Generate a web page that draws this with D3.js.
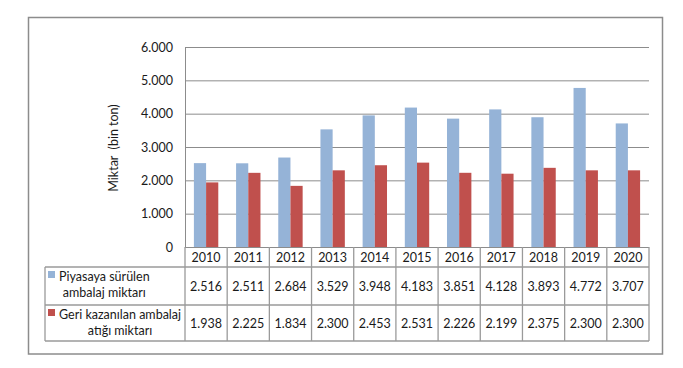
<!DOCTYPE html>
<html>
<head>
<meta charset="utf-8">
<script src="https://cdn.jsdelivr.net/npm/d3@7"></script>
<style>
  body { margin: 0; background: #fff; }
  text { font-family: Lato, "Noto Sans", sans-serif; fill: #1a1a1a; }
</style>
</head>
<body>
<div id="chart"></div>
<script>
// veriler (bin ton)
const years = ["2010", "2011", "2012", "2013", "2014", "2015", "2016", "2017", "2018", "2019", "2020"];
const piyasaya = [2516, 2511, 2684, 3529, 3948, 4183, 3851, 4128, 3893, 4772, 3707];
const geriKazanilan = [1938, 2225, 1834, 2300, 2453, 2531, 2226, 2199, 2375, 2300, 2300];
const yTicks = [0, 1000, 2000, 3000, 4000, 5000, 6000];
const seriesNames = [
    ["Piyasaya sürülen", "ambalaj miktarı"],
    ["Geri kazanılan ambalaj", "atığı miktarı"]
];
const colors = ["#95b3d7", "#c0504d"];

const W = 683, H = 368;
const plot = { left: 185, right: 649, top: 47, bottom: 247 };
const rows = [247, 267, 305, 341];   // tablo satır sınırları
const tableLeft = 45;
const lineColor = "#9a9a9a";

const tr = d3.formatLocale({ decimal: ",", thousands: ".", grouping: [3], currency: ["", ""] });
const fmt = tr.format(",d");

const svg = d3.select("#chart").append("svg")
    .attr("width", W)
    .attr("height", H);

// dış çerçeve
svg.append("rect")
    .attr("x", 28.5).attr("y", 17.5)
    .attr("width", 634).attr("height", 336.5)
    .attr("fill", "#fff")
    .attr("stroke", "#8c8c8c")
    .attr("stroke-width", 1.5);

const x = d3.scaleBand().domain(years).range([plot.left, plot.right]);
const xs = d3.scaleBand().domain([0, 1]).range([0, x.bandwidth()]).paddingOuter(0.73);
const y = d3.scaleLinear().domain([0, 6000]).range([plot.bottom, plot.top]);

// ızgara çizgileri
const yAxis = svg.append("g")
    .attr("transform", `translate(${plot.left},0)`)
    .call(d3.axisLeft(y).tickValues(yTicks).tickFormat(fmt)
        .tickSize(-(plot.right - plot.left)).tickPadding(12));
yAxis.select(".domain").attr("stroke", "#8c8c8c");
yAxis.selectAll(".tick line").attr("stroke", "#8c8c8c");
yAxis.selectAll(".tick text")
    .style("font-size", "12.5px")
    .attr("fill", "#1a1a1a");

// eksen başlığı
svg.append("text")
    .attr("transform", "translate(118,148) rotate(-90)")
    .attr("text-anchor", "middle")
    .style("font-size", "12.5px")
    .style("white-space", "pre")
    .text("Miktar  (bin ton)");

// çubuklar
const series = [piyasaya, geriKazanilan];
series.forEach((vals, si) => {
    svg.append("g").selectAll("rect")
        .data(vals)
        .join("rect")
        .attr("x", (d, i) => x(years[i]) + xs(si))
        .attr("width", xs.bandwidth())
        .attr("y", d => y(d))
        .attr("height", d => y(0) - y(d))
        .attr("fill", colors[si]);
});

// veri tablosu
const table = svg.append("g")
    .attr("stroke", lineColor)
    .attr("stroke-width", 1.3);

rows.slice(1).forEach(r => {
    table.append("line")
        .attr("x1", tableLeft).attr("x2", plot.right)
        .attr("y1", r).attr("y2", r);
});
table.append("line")
    .attr("x1", tableLeft).attr("x2", tableLeft)
    .attr("y1", rows[1]).attr("y2", rows[3]);
years.concat(["end"]).forEach((yr, i) => {
    const xx = plot.left + i * x.bandwidth();
    table.append("line")
        .attr("x1", xx).attr("x2", xx)
        .attr("y1", rows[0]).attr("y2", rows[3]);
});

// yıl etiketleri
svg.append("g").selectAll("text")
    .data(years)
    .join("text")
    .attr("x", d => x(d) + x.bandwidth() / 2)
    .attr("y", (rows[0] + rows[1]) / 2 + 4.5)
    .attr("text-anchor", "middle")
    .style("font-size", "12.5px")
    .text(d => d);

// değerler
series.forEach((vals, si) => {
    svg.append("g").selectAll("text")
        .data(vals)
        .join("text")
        .attr("x", (d, i) => x(years[i]) + x.bandwidth() / 2)
        .attr("y", (rows[si + 1] + rows[si + 2]) / 2 + 4.5)
        .attr("text-anchor", "middle")
        .style("font-size", "12.5px")
        .text(d => fmt(d));
});

// lejant
seriesNames.forEach((lines, si) => {
    const top = rows[si + 1];
    svg.append("rect")
        .attr("x", 48).attr("y", top + 4)
        .attr("width", 7).attr("height", 7)
        .attr("fill", colors[si]);
    const t1 = svg.append("text")
        .attr("x", 59).attr("y", top + 13.5)
        .style("font-size", "12.5px")
        .text(lines[0]);
    const w = t1.node().getComputedTextLength();
    svg.append("text")
        .attr("x", 59 + w / 2).attr("y", top + 30)
        .attr("text-anchor", "middle")
        .style("font-size", "12.5px")
        .text(lines[1]);
});
</script>
</body>
</html>
